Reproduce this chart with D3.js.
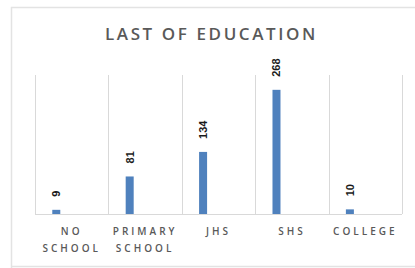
<!DOCTYPE html>
<html>
<head>
<meta charset="utf-8">
<script src="https://cdn.jsdelivr.net/npm/d3@7"></script>
<style>
  body { margin: 0; background: #fff; }
  svg { display: block; }
</style>
</head>
<body>
<div id="chart"></div>
<script>
// chart values
var categories = ["NO SCHOOL", "PRIMARY SCHOOL", "JHS", "SHS", "COLLEGE"];
var labelLines = [["NO", "SCHOOL"], ["PRIMARY", "SCHOOL"], ["JHS"], ["SHS"], ["COLLEGE"]];
var counts = [9, 81, 134, 268, 10];
var title = "LAST OF EDUCATION";

var width = 415, height = 268;
var margin = { top: 75, right: 13, bottom: 54, left: 35 };

var svg = d3.select("#chart").append("svg")
    .attr("width", width)
    .attr("height", height);

// chart frame
svg.append("path")
    .attr("d", "M11.5,268 V7.5 H415 M11.5,266.5 H415")
    .attr("fill", "none")
    .attr("stroke", "#e3e3e3")
    .attr("stroke-width", 1.5);

svg.append("text")
    .attr("x", 211.5)
    .attr("y", 40)
    .attr("text-anchor", "middle")
    .style("font-family", "Open Sans")
    .style("font-weight", 600)
    .style("font-size", "17px")
    .style("letter-spacing", "2.6px")
    .style("fill", "#595959")
    .text(title);

var x = d3.scaleBand()
    .domain(categories)
    .range([margin.left, width - margin.right])
    .padding(0);

var y = d3.scaleLinear()
    .domain([0, 300])
    .range([height - margin.bottom, margin.top]);

var plot = svg.append("g");

// vertical separators between categories
var edges = categories.map(function(c) { return x(c); }).concat([x.range()[1]]);
plot.selectAll(".sep")
    .data(edges)
  .enter().append("line")
    .attr("class", "sep")
    .attr("x1", function(d) { return Math.round(d) + 0.5; })
    .attr("x2", function(d) { return Math.round(d) + 0.5; })
    .attr("y1", y(300))
    .attr("y2", y(0))
    .attr("stroke", "#d9d9d9");

plot.append("line")
    .attr("x1", x.range()[0])
    .attr("x2", x.range()[1])
    .attr("y1", y(0) + 0.5)
    .attr("y2", y(0) + 0.5)
    .attr("stroke", "#d9d9d9");

// bars sit left of the band centre, like the original
var barW = 8;
var barOff = 0.29;
var data = d3.zip(categories, counts);

plot.selectAll(".bar")
    .data(data)
  .enter().append("rect")
    .attr("class", "bar")
    .attr("x", function(d) { return x(d[0]) + x.bandwidth() * barOff - barW / 2; })
    .attr("y", function(d) { return y(d[1]); })
    .attr("width", barW)
    .attr("height", function(d) { return y(0) - y(d[1]); })
    .attr("fill", "#4f81bd");

// rotated value labels
plot.selectAll(".val")
    .data(data)
  .enter().append("text")
    .attr("class", "val")
    .attr("transform", function(d) {
      var cx = x(d[0]) + x.bandwidth() * barOff;
      return "translate(" + (cx + 4) + "," + (y(d[1]) - 13) + ") rotate(-90)";
    })
    .attr("text-anchor", "start")
    .style("font-family", "Liberation Sans")
    .style("font-weight", "bold")
    .style("font-size", "11px")
    .style("fill", "#1a1a1a")
    .text(function(d) { return d[1]; });

// category labels
var cat = svg.selectAll(".cat")
    .data(categories)
  .enter().append("text")
    .attr("class", "cat")
    .attr("text-anchor", "middle")
    .style("font-family", "Open Sans")
    .style("font-weight", 600)
    .style("font-size", "10px")
    .style("letter-spacing", "3px")
    .style("fill", "#595959");

cat.each(function(c, i) {
  var t = d3.select(this);
  labelLines[i].forEach(function(line, j) {
    t.append("tspan")
      .attr("x", x(c) + x.bandwidth() / 2)
      .attr("y", 235 + j * 17)
      .text(line);
  });
});
</script>
</body>
</html>
